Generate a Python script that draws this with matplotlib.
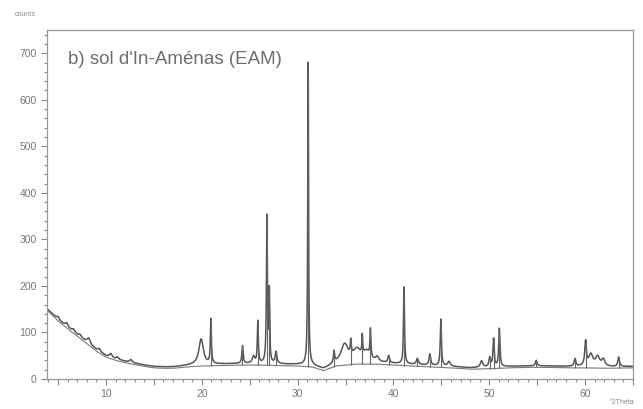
import numpy as np
import matplotlib
matplotlib.use("Agg")
import matplotlib.pyplot as plt
from matplotlib.ticker import MultipleLocator, FuncFormatter

plt.rcParams['font.family'] = ['Liberation Sans', 'DejaVu Sans']

# fond continu (°2Theta, counts)
bg_x = [3.85, 5, 6, 7, 8, 9, 10, 11, 12, 13, 14, 15, 16, 17, 18, 19, 20, 22, 24, 26,
        28, 30, 31.5, 32.7, 34, 36, 38, 40, 42, 44, 46, 48, 50, 52, 54, 56, 58, 60, 62, 65]
bg_y = [148, 125, 108, 92, 76, 60, 47, 40, 35, 31, 27, 24, 23, 23, 25, 27, 28, 29, 30, 30,
        29, 28, 26, 18, 28, 32, 32, 30, 28, 26, 24, 21, 22, 24, 25, 25, 24, 24, 23, 24]

# pics : position, hauteur au-dessus du fond, largeur
peak_pos = [5.0, 5.9, 6.6, 7.3, 8.2, 9.3, 10.5, 11.2, 12.6,
            19.93, 20.95, 24.25, 25.4, 25.85, 26.8, 27.05, 27.75,
            31.1, 33.8, 34.9, 35.55, 36.2, 36.75, 37.2, 37.6, 38.3, 39.5,
            41.1, 42.5, 43.8, 44.95, 45.8, 49.2, 50.05, 50.45, 51.05,
            54.9, 58.95, 60.05, 60.6, 61.3, 61.9, 63.5]
peak_height = [6, 8, 6, 5, 12, 6, 8, 5, 6,
               55, 95, 38, 15, 90, 315, 150, 25,
               650, 25, 40, 30, 25, 40, 20, 60, 10, 15,
               165, 13, 24, 100, 10, 14, 20, 60, 82,
               12, 16, 52, 25, 20, 15, 20]
peak_width = [0.3, 0.3, 0.3, 0.3, 0.4, 0.3, 0.3, 0.3, 0.3,
              0.55, 0.12, 0.15, 0.3, 0.12, 0.12, 0.1, 0.2,
              0.1, 0.15, 0.9, 0.12, 1.0, 0.1, 0.8, 0.12, 0.4, 0.2,
              0.12, 0.25, 0.2, 0.14, 0.3, 0.3, 0.2, 0.15, 0.15,
              0.2, 0.2, 0.2, 0.5, 0.5, 0.4, 0.2]

x = np.arange(3.85, 65.0, 0.005)
bg = np.interp(x, bg_x, bg_y)
y = bg + 3
for p, h, w in zip(peak_pos, peak_height, peak_width):
    y += h / (1 + ((x - p) / (w / 2)) ** 2)

fig = plt.figure(figsize=(6.43, 4.09), dpi=100)
ax = fig.add_axes([47 / 643, 1 - 379 / 409, 586 / 643, 349 / 409])

ax.plot(x, y, color='#555555', lw=1.1)
ax.plot(x, bg, color='#7a7a7a', lw=0.8)

# batonnets des pics
for p, h, w in zip(peak_pos, peak_height, peak_width):
    if w <= 0.25 and h >= 12:
        b = np.interp(p, bg_x, bg_y)
        top = np.interp(p, x, y)
        ax.vlines(p, b, top, color='#666666', lw=0.8)

ax.set_xlim(3.85, 65)
ax.set_ylim(0, 750)

ax.yaxis.set_major_locator(MultipleLocator(100))
ax.yaxis.set_minor_locator(MultipleLocator(20))
ax.xaxis.set_major_locator(MultipleLocator(5))
ax.xaxis.set_minor_locator(MultipleLocator(1))
ax.xaxis.set_major_formatter(FuncFormatter(lambda v, _: '%d' % v if v % 10 == 0 else ''))

ax.tick_params(which='both', direction='out', colors='#888888', labelcolor='#777777',
               labelsize=7.5, width=0.8)
ax.tick_params(which='major', length=4)
ax.tick_params(which='minor', length=2)
for s in ax.spines.values():
    s.set_color('#999999')
    s.set_linewidth(0.9)

ax.text(0.035, 0.915, "b) sol d'In-Aménas (EAM)", transform=ax.transAxes,
        fontsize=13.5, color='#6e6e6e', va='center')
fig.text(25 / 643, 1 - 15 / 409, 'counts', fontsize=5, color='#888888', ha='center', va='center')
fig.text(622 / 643, 1 - 403 / 409, '°2Theta', fontsize=5, color='#888888', ha='center', va='center')

fig.savefig('out.png', dpi=100)
